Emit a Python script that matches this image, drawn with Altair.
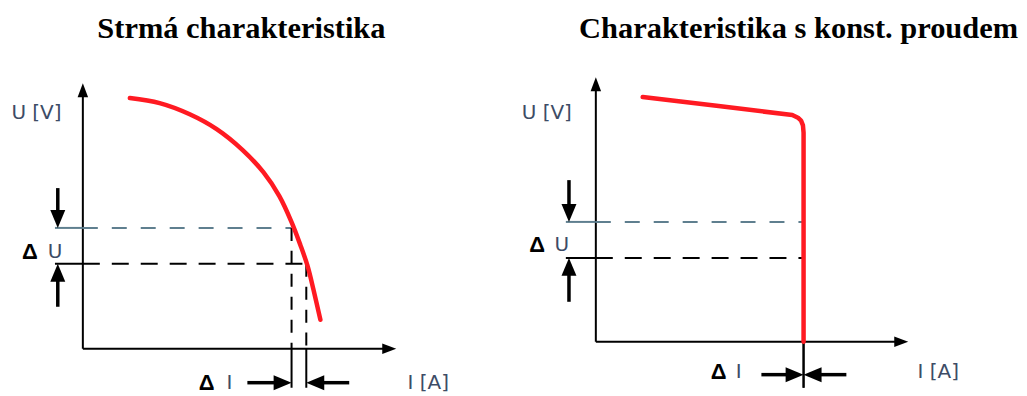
import altair as alt
import pandas as pd

# ---------------- values ----------------
# Diagram units: in each panel both axes run from 0 (origin) to their arrow tip at 10.
titles = ["Strmá charakteristika", "Charakteristika s konst. proudem"]
axis_tip = [10.0, 10.0]

# red characteristics  (I, U)
steep_I = [1.50, 2.45, 3.41, 4.27, 5.10, 5.76, 6.27, 6.66, 6.94, 7.17, 7.36, 7.58]
steep_U = [9.44, 9.25, 8.83, 8.27, 7.48, 6.65, 5.75, 4.77, 3.91, 3.12, 2.22, 1.09]
const_I = [1.50, 3.93, 6.29, 6.47, 6.57, 6.63, 6.65, 6.65, 6.65]
const_U = [9.25, 8.91, 8.57, 8.47, 8.36, 8.18, 7.90, 7.25, 0.00]

# working-point levels
steep_dU = [4.55, 3.20]      # upper / lower voltage
const_dU = [4.53, 3.17]
steep_dI = [6.66, 7.13]      # left / right current
const_dI = [6.65, 6.65]

# delta arrows
steep_dU_arrow = [-0.80, 6.05, 1.58]    # x, start of upper arrow, start of lower arrow
const_dU_arrow = [-0.86, 6.11, 1.51]
steep_dI_arrow = [-1.28, 5.25, 8.50]    # y, start of left arrow, start of right arrow
const_dI_arrow = [-1.245, 5.30, 8.02]
steep_stub = -0.89
const_stub = -0.96

# labels
label_text = ["U [V]", "U", "I", "I [A]"]
steep_label_x = [-1.48, -0.89, 4.68, 11.02]
steep_label_y = [8.87, 3.65, -1.28, -1.28]
const_label_x = [-1.57, -1.09, 4.57, 10.96]
const_label_y = [8.64, 3.66, -1.13, -1.13]
delta_text = ["Δ", "Δ"]
steep_delta_x = [-1.69, 3.95]
steep_delta_y = [3.65, -1.28]
const_delta_x = [-1.88, 3.93]
const_delta_y = [3.66, -1.13]
title_x = [5.06, 6.49]
title_y = [11.69, 11.47]

# ---------------- layout / style ----------------
VIEW_W = [507, 504]
VIEW_H = 380
VIEW_LEFT = [8, 515]
VIEW_TOP = 8
ORIGIN = [(83, 349), (597, 342)]
PX_PER_UNIT = [(31.4, 26.6), (31.3, 26.5)]
HEAD = 18        # px length of delta arrow heads
AXHEAD = 14      # px length of axis arrow heads
RED = "#ff1a22"
GRAY_LINE = "#5f7f8f"
LABEL = "#3d4c66"

curves = [(steep_I, steep_U), (const_I, const_U)]
dUs = [steep_dU, const_dU]
dIs = [steep_dI, const_dI]
dUas = [steep_dU_arrow, const_dU_arrow]
dIas = [steep_dI_arrow, const_dI_arrow]
stubs = [steep_stub, const_stub]
labels = [(steep_label_x, steep_label_y), (const_label_x, const_label_y)]
deltas = [(steep_delta_x, steep_delta_y), (const_delta_x, const_delta_y)]


def seg_df(rows):
    return pd.DataFrame(rows, columns=["x", "y", "x2", "y2"])


def panel(k):
    ox, oy = ORIGIN[k]
    kx, ky = PX_PER_UNIT[k]
    left = VIEW_LEFT[k]
    x_dom = [(left - ox) / kx, (left + VIEW_W[k] - ox) / kx]
    y_dom = [(oy - (VIEW_TOP + VIEW_H)) / ky, (oy - VIEW_TOP) / ky]
    X = alt.X("x:Q", scale=alt.Scale(domain=x_dom, nice=False, zero=False), axis=None)
    Y = alt.Y("y:Q", scale=alt.Scale(domain=y_dom, nice=False, zero=False), axis=None)

    I, U = curves[k]
    dU, dI, dUa, dIa, stub = dUs[k], dIs[k], dUas[k], dIas[k], stubs[k]
    tip = axis_tip[k]
    hv, hh = HEAD / ky, HEAD / kx
    av, ah = AXHEAD / ky, AXHEAD / kx
    ybot = y_dom[0] - 1

    solid = seg_df([
        (0, 0, tip - ah * 0.5, 0),
        (0, 0, 0, tip - av * 0.5),
        (stub, dU[1], 0, dU[1]),
        (dI[0], 0, dI[0], ybot),
        (dI[1], 0, dI[1], ybot),
    ])
    gray_solid = seg_df([(stub, dU[0], 0, dU[0])])
    gray_dash = seg_df([(0, dU[0], dI[0], dU[0])])
    black_dash = seg_df([(0, dU[1], dI[1], dU[1])])
    vdash_rows = [(dI[0], dU[0], dI[0], 0), (dI[1], dU[1], dI[1], 0)] if k == 0 else []
    vdash = seg_df(vdash_rows)
    shafts = seg_df([
        (dUa[0], dUa[1], dUa[0], dU[0] + hv * 0.9),
        (dUa[0], dUa[2], dUa[0], dU[1] - hv * 0.9),
        (dIa[1], dIa[0], dI[0] - hh * 0.9, dIa[0]),
        (dIa[2], dIa[0], dI[1] + hh * 0.9, dIa[0]),
    ])
    heads = pd.DataFrame([
        (dUa[0], dU[0], 180), (dUa[0], dU[1], 0),
        (dI[0], dIa[0], 90), (dI[1], dIa[0], 270),
    ], columns=["x", "y", "angle"])
    ax_heads = pd.DataFrame([(tip, 0, 90), (0, tip, 0)], columns=["x", "y", "angle"])
    curve = pd.DataFrame({"x": I, "y": U, "idx": list(range(len(I)))})
    lab = pd.DataFrame({"x": labels[k][0], "y": labels[k][1], "t": label_text})
    dl = pd.DataFrame({"x": deltas[k][0], "y": deltas[k][1], "t": delta_text})
    ttl = pd.DataFrame({"x": [title_x[k]], "y": [title_y[k]], "t": [titles[k]]})

    def rules(df, color, width, dash=None, clip=False):
        kw = dict(color=color, strokeWidth=width, clip=clip)
        if dash:
            kw["strokeDash"] = dash
        return alt.Chart(df).mark_rule(**kw).encode(
            x=X, y=Y, x2=alt.X2("x2:Q"), y2=alt.Y2("y2:Q"))

    layers = [
        rules(solid, "black", 2, clip=True),
        rules(gray_solid, GRAY_LINE, 2),
        rules(gray_dash, GRAY_LINE, 2, dash=[15, 14]),
        rules(black_dash, "black", 2, dash=[17, 12]),
    ]
    if len(vdash):
        layers.append(rules(vdash, "black", 2, dash=[13, 10]))
    line_interp = "catmull-rom" if k == 0 else "linear"
    layers += [
        alt.Chart(curve).mark_line(color=RED, strokeWidth=4.5, interpolate=line_interp,
                                   strokeCap="round", strokeJoin="round").encode(
            x=X, y=Y, order=alt.Order("idx:Q")),
        rules(shafts, "black", 3.5),
        alt.Chart(heads).mark_point(shape="M0,0L0.5,1.2L-0.5,1.2Z", filled=True, color="black",
                                    opacity=1, size=(HEAD / 1.2 * 2) ** 2, strokeWidth=0).encode(
            x=X, y=Y, angle=alt.Angle("angle:Q", scale=None)),
        alt.Chart(ax_heads).mark_point(shape="M0,0L0.45,1.2L-0.45,1.2Z", filled=True, color="black",
                                       opacity=1, size=(AXHEAD / 1.2 * 2) ** 2, strokeWidth=0).encode(
            x=X, y=Y, angle=alt.Angle("angle:Q", scale=None)),
        alt.Chart(lab).mark_text(font="DejaVu Sans", fontSize=20, color=LABEL,
                                 align="center", baseline="middle").encode(x=X, y=Y, text="t:N"),
        alt.Chart(dl).mark_text(font="Liberation Sans", fontSize=22, fontWeight="bold", color="black",
                                align="center", baseline="middle").encode(x=X, y=Y, text="t:N"),
        alt.Chart(ttl).mark_text(font="Liberation Serif", fontSize=30.5, fontWeight="bold", color="black",
                                 align="center", baseline="alphabetic").encode(x=X, y=Y, text="t:N"),
    ]
    return alt.layer(*layers).properties(width=VIEW_W[k], height=VIEW_H)


chart = alt.hconcat(panel(0), panel(1), spacing=0, bounds="flush").properties(
    padding=0, background="white"
).configure_view(stroke=None)

chart.save("out.html", embed_options={"renderer": "svg", "actions": False})
